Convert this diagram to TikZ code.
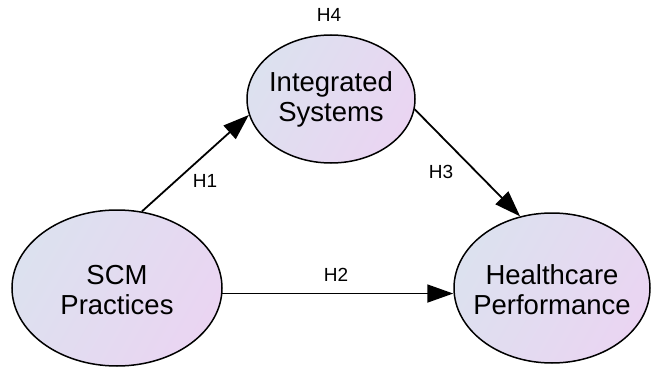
\documentclass[tikz,border=0pt]{standalone}
\usepackage{fontspec}
\setmainfont{Liberation Sans}
\usetikzlibrary{shapes.geometric,arrows.meta}
\definecolor{shadeL}{HTML}{DCE1EF}
\definecolor{shadeR}{HTML}{EAD5F2}
\tikzset{
  latent/.style={ellipse, draw=black, line width=1.5pt, inner sep=0pt,
    left color=shadeL, right color=shadeR, shading angle=60},
  ltext/.style={align=center, font=\fontsize{27.5}{30}\selectfont, inner sep=0pt},
  hlabel/.style={font=\fontsize{19}{22}\selectfont, inner sep=0pt},
  arr/.style={line width=1.8pt, -{Triangle[length=26pt,width=18pt]}}
}
\begin{document}
\begin{tikzpicture}[x=1pt,y=-1pt]
\useasboundingbox (0,0) rectangle (651,369);
\node[latent, minimum width=210pt, minimum height=156pt] (scm) at (117,288) {};
\node[latent, minimum width=168pt, minimum height=128pt] (is) at (331,99) {};
\node[latent, minimum width=196pt, minimum height=150pt] (hc) at (552,288) {};
\node[ltext] (scmt) at (117,290) {SCM\\Practices};
\node[ltext] (ist) at (331,99) {Integrated\\Systems};
\node[ltext] (hct) at (552,290) {Healthcare\\Performance};
\draw[arr] (scm.72) -- (is.191);
\draw[arr] (is.-7) -- (hc.114);
\draw[arr] (scm.-3.5) -- (scm.-3.5 -| hc.west);
\node[hlabel] (h1) at (205,181) {H1};
\node[hlabel] (h2) at (336,275) {H2};
\node[hlabel] (h3) at (441,172) {H3};
\node[hlabel] (h4) at (329,15) {H4};
\end{tikzpicture}
\end{document}
